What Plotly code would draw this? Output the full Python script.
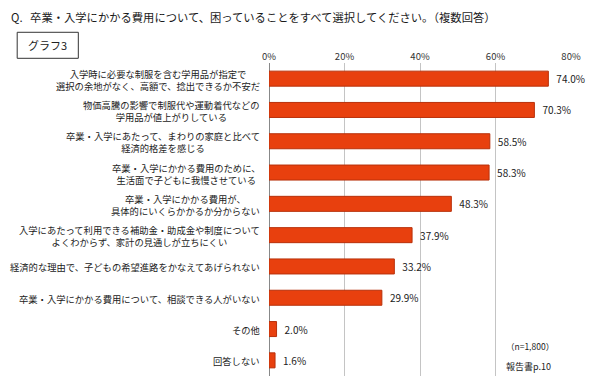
import plotly.graph_objects as go

title_text = "Q.&nbsp;&nbsp;&nbsp;卒業・入学にかかる費用について、困っていることをすべて選択してください。（複数回答）"
graph_label = "グラフ3"
categories = [
    "入学時に必要な制服を含む学用品が指定で<br>選択の余地がなく、高額で、捻出できるか不安だ",
    "物価高騰の影響で制服代や運動着代などの<br>学用品が値上がりしている",
    "卒業・入学にあたって、まわりの家庭と比べて<br>経済的格差を感じる",
    "卒業・入学にかかる費用のために、<br>生活面で子どもに我慢させている",
    "卒業・入学にかかる費用が、<br>具体的にいくらかかるか分からない",
    "入学にあたって利用できる補助金・助成金や制度について<br>よくわからず、家計の見通しが立ちにくい",
    "経済的な理由で、子どもの希望進路をかなえてあげられない",
    "卒業・入学にかかる費用について、相談できる人がいない",
    "その他",
    "回答しない",
]
values = [74.0, 70.3, 58.5, 58.3, 48.3, 37.9, 33.2, 29.9, 2.0, 1.6]
tick_values = [0, 20, 40, 60, 80]
tick_labels = ["0%", "20%", "40%", "60%", "80%"]
note_n = "（n=1,800）"
note_src = "報告書p.10"

W, H = 600, 386
L, R, T, B = 269.3, 29.3, 62.7, 10.4
pw, ph = W - L - R, H - T - B

def px(x):
    return (x - L) / pw

def py(y):
    return (H - B - y) / ph

FONT = "Noto Sans CJK JP"
ids = list(range(len(categories)))

fig = go.Figure()
fig.add_trace(go.Bar(
    x=values, y=ids, orientation="h", width=0.48,
    marker=dict(color="#E8400E", line=dict(color="#B8300A", width=1)),
    text=[f"\u2002{v:.1f}%" for v in values], textposition="outside",
    textfont=dict(family=FONT, size=10, color="#222"),
    cliponaxis=False, hoverinfo="skip",
))

ann = []
for i, c in zip(ids, categories):
    ann.append(dict(x=0, xref="paper", y=i, yref="y", text=c, showarrow=False,
                    xanchor="right", yanchor="middle", align="center", xshift=-7,
                    yshift=-1,
                    font=dict(family=FONT, size=9.3, color="#222")))
ann.append(dict(x=px(9.6), xref="paper", y=py(17), yref="paper", text=title_text,
                showarrow=False, xanchor="left", yanchor="middle",
                font=dict(family=FONT, size=11.3, color="#1a1a1a")))
ann.append(dict(x=px(48.5), xref="paper", y=py(45), yref="paper", text=graph_label,
                showarrow=False, xanchor="center", yanchor="middle",
                font=dict(family=FONT, size=11, color="#222")))
ann.append(dict(x=px(530), xref="paper", y=py(346), yref="paper", text=note_n,
                showarrow=False, xanchor="center", yanchor="middle",
                font=dict(family=FONT, size=8.5, color="#222")))
ann.append(dict(x=px(528), xref="paper", y=py(366), yref="paper", text=note_src,
                showarrow=False, xanchor="center", yanchor="middle",
                font=dict(family=FONT, size=9, color="#222")))

fig.update_layout(
    width=W, height=H, margin=dict(l=L, r=R, t=T, b=B, pad=0),
    paper_bgcolor="white", plot_bgcolor="white", showlegend=False,
    annotations=ann, bargap=0.52,
    shapes=[dict(type="rect", xref="paper", yref="paper",
                 x0=px(18), x1=px(79), y0=py(58), y1=py(32),
                 line=dict(color="#333", width=1), fillcolor="rgba(0,0,0,0)")],
    xaxis=dict(side="top", range=[0, 80], tickvals=tick_values, ticktext=tick_labels,
               showgrid=True, gridcolor="#c4c4c4", gridwidth=1,
               zeroline=True, zerolinecolor="#888", zerolinewidth=1,
               ticks="", tickfont=dict(family=FONT, size=9.5, color="#333"),
               showline=False, fixedrange=True),
    yaxis=dict(range=[len(categories) - 0.5, -0.5], showticklabels=False,
               showgrid=False, zeroline=False, showline=False, ticks=""),
)
fig.write_html("out.html", config={"displayModeBar": False},
               post_script="document.body.style.margin='0';document.body.style.overflow='hidden';")
